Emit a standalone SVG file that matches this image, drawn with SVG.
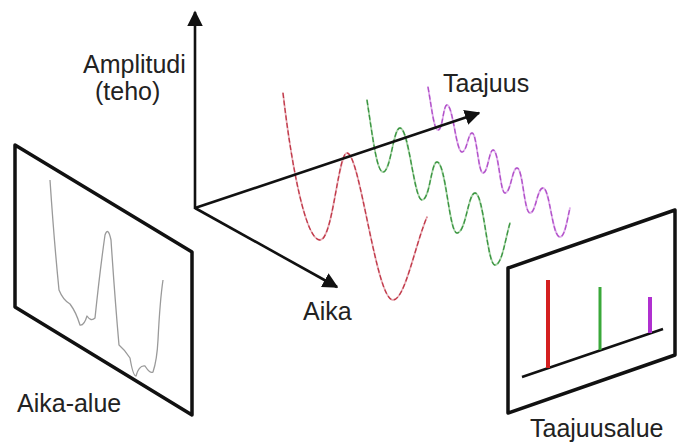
<svg xmlns="http://www.w3.org/2000/svg" width="677" height="444" viewBox="0 0 677 444">
<defs>
<style>
.lbl{font-family:"Liberation Sans",Arial,sans-serif;font-size:25px;fill:#222}
.axis{stroke:#111;stroke-width:2.6;fill:none}
.panel{stroke:#111;stroke-width:3.5;fill:none;stroke-linejoin:round}
.wave{fill:none;stroke-width:1.8;stroke-linecap:round}
.wdash{fill:none;stroke-width:1.3;stroke-dasharray:5 2.5}
</style>
<marker id="ah" viewBox="0 0 10 10" refX="9" refY="5" markerWidth="6" markerHeight="6" orient="auto" markerUnits="strokeWidth">
<path d="M0,0 L10,5 L0,10 z" fill="#111"/>
</marker>
</defs>
<rect width="677" height="444" fill="#fff"/>

<g id="waves">
<path class="wave" stroke="#e8b0b8" d="M283,93 C292,170 306,240 320,240 C333,240 338,153 347,153 C360,153 376,300 393,300 C405,300 415,245 427,217"/>
<path class="wdash" stroke="#c03848" d="M283,93 C292,170 306,240 320,240 C333,240 338,153 347,153 C360,153 376,300 393,300 C405,300 415,245 427,217"/>
<path class="wave" stroke="#a8d4a8" d="M367,100 C373,140 377,172 383,172 C391,172 393,128 400,128 C409,128 414,200 422,200 C430,200 431,162 437,162 C446,162 449,233 457,233 C466,233 468,193 475,193 C484,193 487,265 495,265 C502,265 505,240 510,223"/>
<path class="wdash" stroke="#3a9440" d="M367,100 C373,140 377,172 383,172 C391,172 393,128 400,128 C409,128 414,200 422,200 C430,200 431,162 437,162 C446,162 449,233 457,233 C466,233 468,193 475,193 C484,193 487,265 495,265 C502,265 505,240 510,223"/>
<path class="wave" stroke="#e0b0ec" d="M428,87 C432,110 434,130 438,130 C443,130 443,105 447,105 C453,105 456,152 462,152 C467,152 468,133 472,133 C477,133 478,173 483,173 C488,173 489,150 493,150 C499,150 500,193 505,193 C511,193 512,168 517,168 C523,168 524,213 530,213 C536,213 537,188 543,188 C550,188 552,237 560,237 C565,237 567,220 570,208"/>
<path class="wdash" stroke="#b050c8" d="M428,87 C432,110 434,130 438,130 C443,130 443,105 447,105 C453,105 456,152 462,152 C467,152 468,133 472,133 C477,133 478,173 483,173 C488,173 489,150 493,150 C499,150 500,193 505,193 C511,193 512,168 517,168 C523,168 524,213 530,213 C536,213 537,188 543,188 C550,188 552,237 560,237 C565,237 567,220 570,208"/>
</g>

<g id="connectors">
<line class="axis" x1="195" y1="209" x2="195" y2="12" marker-end="url(#ah)"/>
<line class="axis" x1="195" y1="208" x2="479" y2="113" marker-end="url(#ah)"/>
<line class="axis" x1="195" y1="208" x2="337" y2="287" marker-end="url(#ah)"/>
</g>

<g id="time-domain">
<path class="panel" d="M15,145 L192,252 L192,415 L15,307 Z"/>
<path fill="none" stroke="#9a9a9a" stroke-width="1.3" stroke-linejoin="round" d="M50,180 Q54,240 59,290 Q63,300 70,304 Q76,312 80,325 Q84,326 87,316 Q91,322 95,318 Q100,270 105,235 Q108,226 111,240 Q115,300 119,345 Q125,350 130,358 Q133,376 136,376 Q139,365 145,366 Q150,374 153,372 Q157,360 158,340 Q160,300 163,280"/>
<text class="lbl" x="17" y="412">Aika-alue</text>
</g>

<g id="freq-domain">
<path class="panel" d="M508,268 L675,210 L675,355 L508,413 Z"/>
<line x1="522" y1="377" x2="663" y2="329" stroke="#111" stroke-width="2.6"/>
<line x1="548" y1="280" x2="548" y2="368" stroke="#d42020" stroke-width="4"/>
<line x1="600" y1="287" x2="600" y2="350" stroke="#3aa83a" stroke-width="3"/>
<line x1="650" y1="297" x2="650" y2="333" stroke="#b030d0" stroke-width="4"/>
<text class="lbl" x="530" y="437">Taajuusalue</text>
</g>

<g id="labels">
<text class="lbl" x="83" y="73">Amplitudi</text>
<text class="lbl" x="95" y="100">(teho)</text>
<text class="lbl" x="443" y="92">Taajuus</text>
<text class="lbl" x="303" y="320">Aika</text>
</g>
</svg>
